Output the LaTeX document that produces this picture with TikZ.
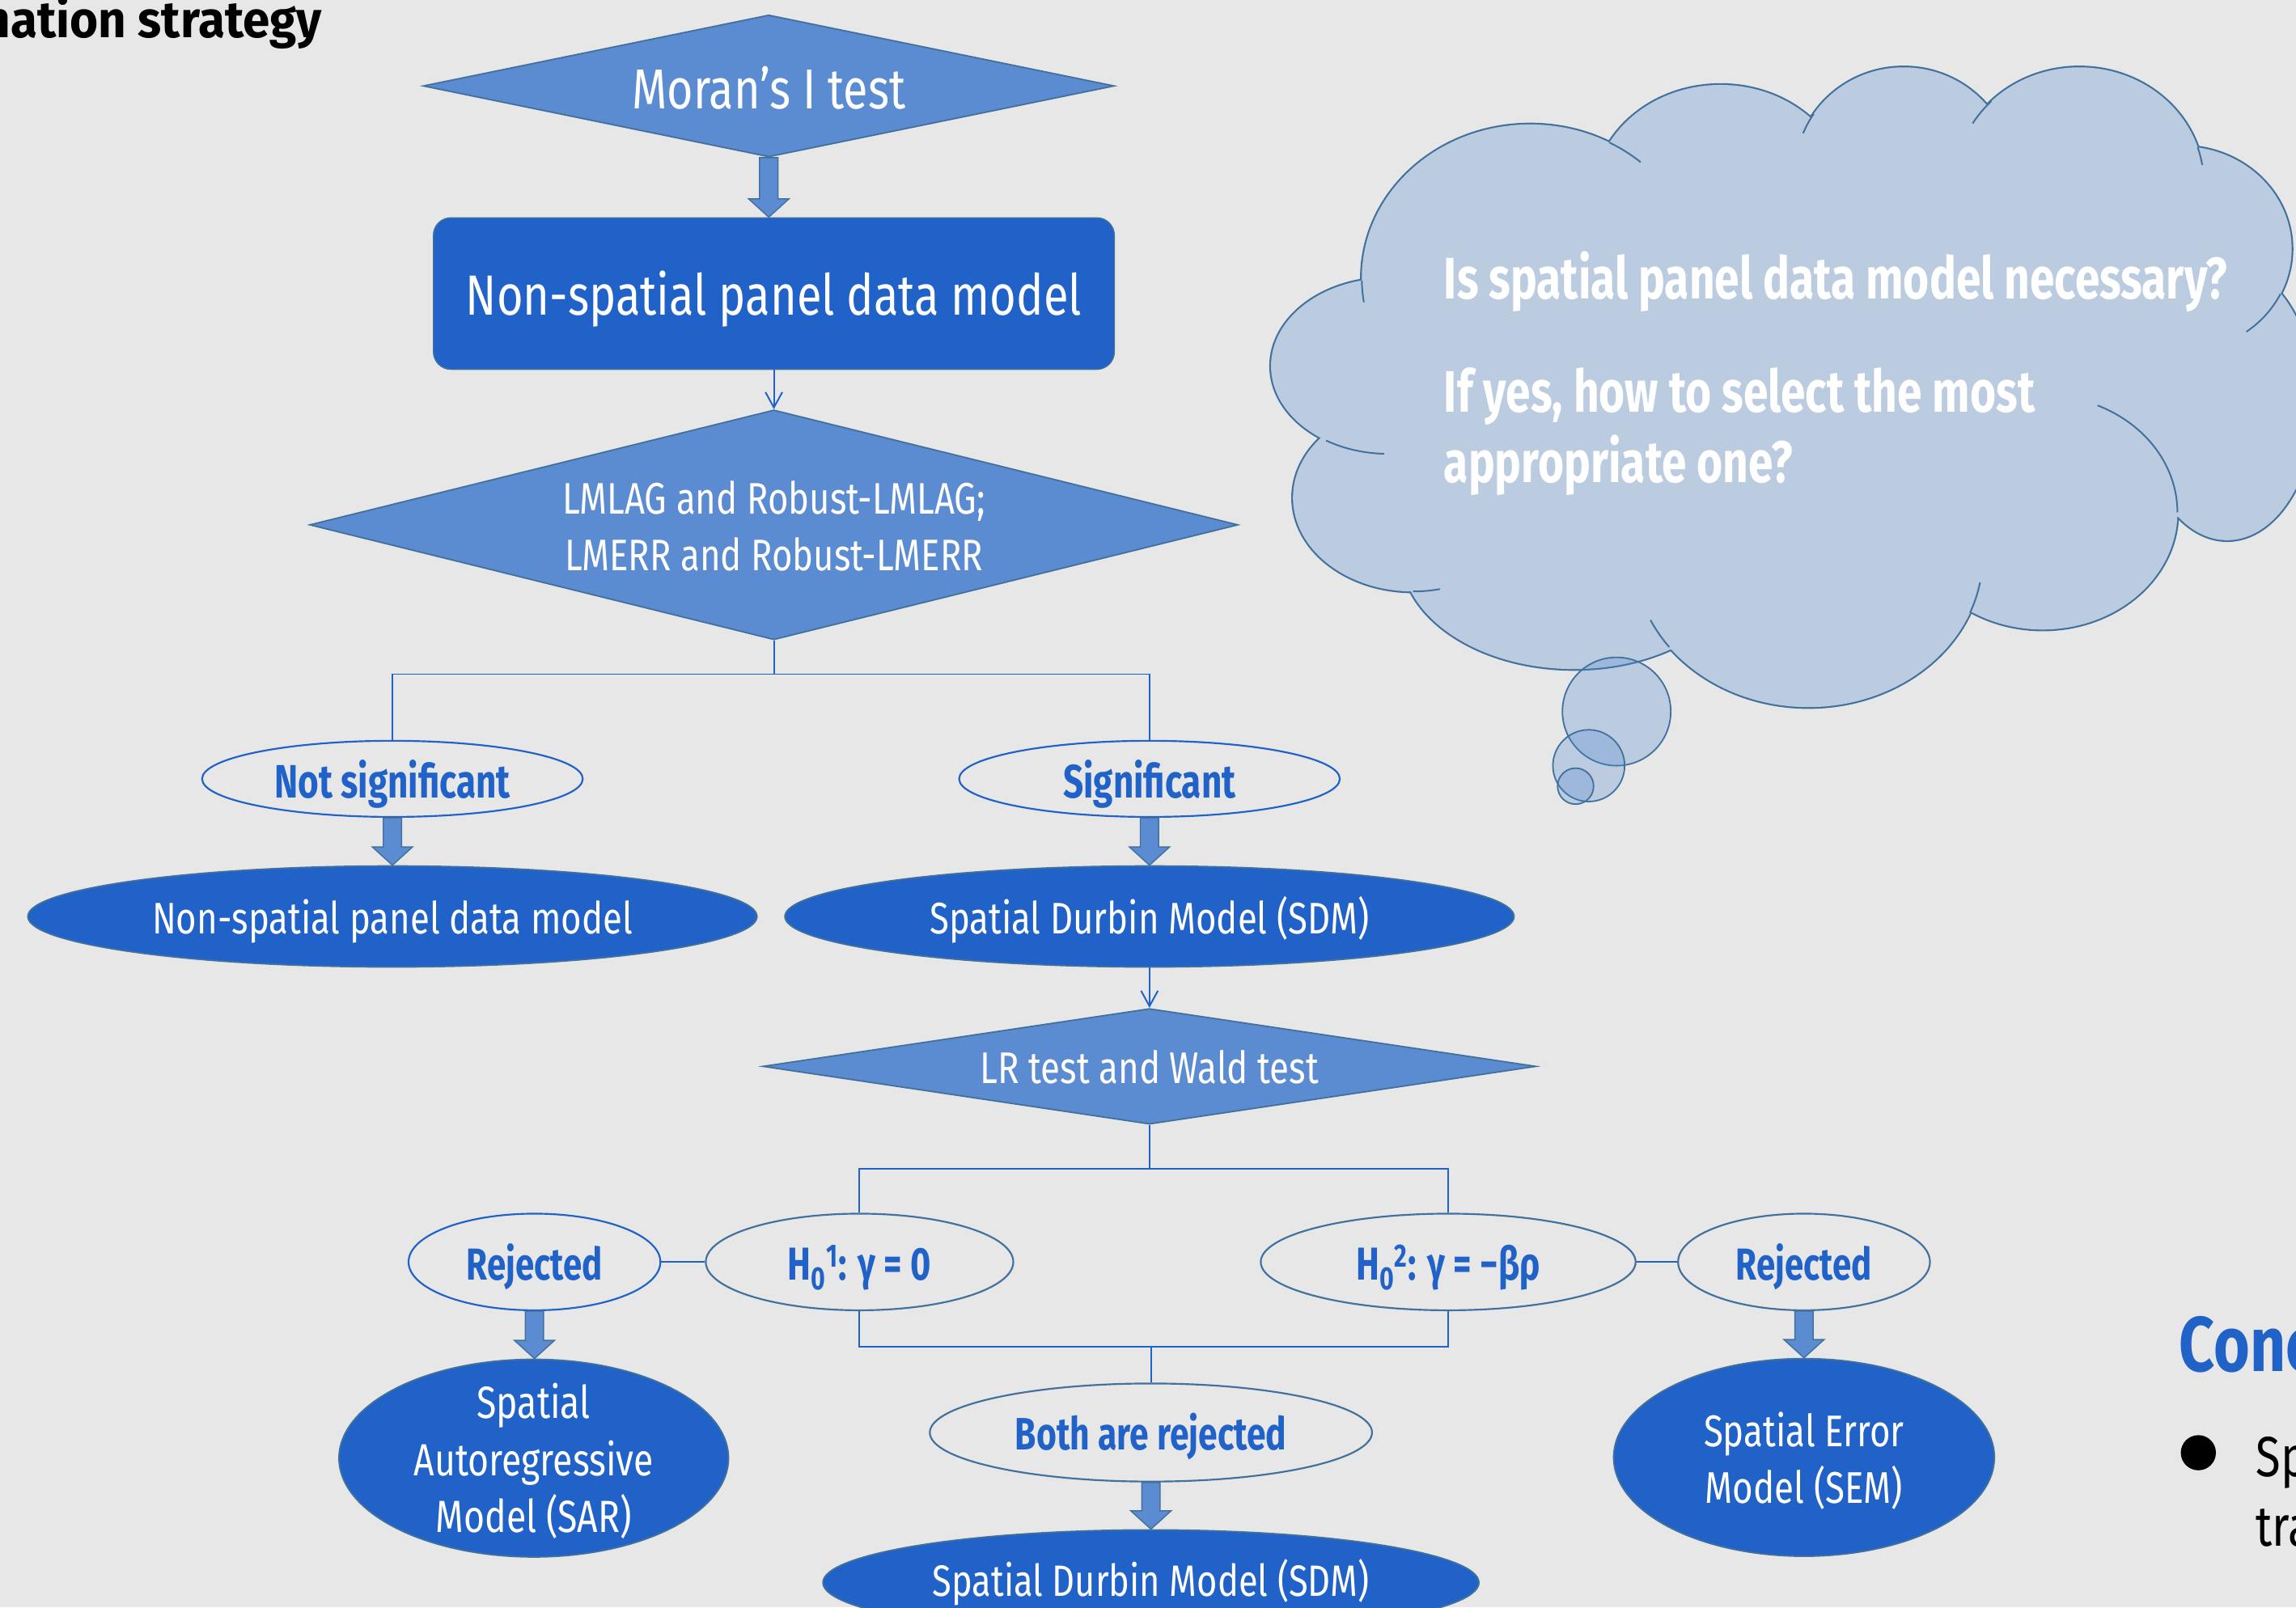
\documentclass[tikz,border=0pt]{standalone}
\usepackage{fontspec}
\setmainfont{Fira Sans}[UprightFeatures={FakeStretch=0.8}, BoldFeatures={FakeStretch=0.76}]
\newfontfamily\titlefont{Fira Sans}[FakeStretch=0.95]
\newfontfamily\concfont{Fira Sans}[FakeStretch=0.8]
\usetikzlibrary{shapes.geometric,arrows.meta,calc}
\definecolor{bgc}{RGB}{231,231,231}
\definecolor{dblue}{RGB}{32,98,200}
\definecolor{mblue}{RGB}{91,139,208}
\definecolor{bord}{RGB}{65,113,156}
\definecolor{cloudc}{RGB}{188,204,224}
\definecolor{bubc}{RGB}{78,135,206}
\newcommand\fsz[2]{\fontsize{#1pt}{#2pt}\selectfont}
\newcommand\blockarrow[2]{%
  \path[barrow] let \p1=(#1), \p2=(#2) in
   (\x1-6.25pt,\y1) -- (\x1+6.25pt,\y1) -- (\x1+6.25pt,\y2+12.5pt) -- (\x1+13.75pt,\y2+12.5pt)
   -- (\x1,\y2) -- (\x1-13.75pt,\y2+12.5pt) -- (\x1-6.25pt,\y2+12.5pt) -- cycle;}
\newcommand\crease[6]{\draw[bord, line width=1.1pt] ([shift={(#1,#2)}]#5:#3 and #4) arc[start angle=#5, end angle=#6, x radius=#3, y radius=#4];}
\def\cloudlobes{(948,250) ellipse[x radius=80,y radius=60]
 (965,340) ellipse[x radius=82,y radius=64]
 (1075,378) ellipse[x radius=118,y radius=79]
 (1235,380) ellipse[x radius=119,y radius=103]
 (1395,350) ellipse[x radius=92,y radius=80]
 (1521,275) ellipse[x radius=60,y radius=94]
 (1490,170) ellipse[x radius=75,y radius=70]
 (1420,125) ellipse[x radius=85,y radius=79]
 (1300,118) ellipse[x radius=74,y radius=72]
 (1175,135) ellipse[x radius=87,y radius=77]
 (1045,190) ellipse[x radius=115,y radius=105]}
\tikzset{
  dia/.style={diamond, draw=bord, fill=mblue, line width=1pt, inner sep=0pt, text=white},
  fillell/.style={ellipse, draw=bord, fill=dblue, line width=1pt, inner sep=0pt, text=white},
  openell/.style={ellipse, draw=#1, line width=1.2pt, inner sep=0pt, text=dblue},
  thinline/.style={draw=dblue, line width=1.1pt},
  thinarrow/.style={thinline, -{Straight Barb[length=10.5pt,width=11.5pt]}},
  barrow/.style={fill=mblue, draw=bord, line width=0.8pt},
  txt/.style={inner sep=0pt},
}
\begin{document}
\begin{tikzpicture}[x=1pt,y=-1pt]
\useasboundingbox (0,0) rectangle (1568,1098);
\fill[bgc] (0,0) rectangle (1568,1098);
\clip (0,0) rectangle (1568,1098);

% title fragment
\node[txt, anchor=base east, font=\titlefont\bfseries\fsz{35}{42}] (title) at (220,25.8) {nation strategy};

% cloud
\draw[bord, line width=2.4pt] \cloudlobes;
\fill[cloudc] \cloudlobes;
\fill[cloudc] (948,250) -- (965,340) -- (1075,378) -- (1235,380) -- (1395,350) -- (1521,275) -- (1490,170) -- (1420,125) -- (1300,118) -- (1175,135) -- (1045,190) -- cycle;
\crease{1045}{190}{115}{105}{179}{171}
\crease{948}{250}{80}{60}{122}{92}
\crease{965}{340}{82}{64}{90}{77}
\crease{1235}{380}{119}{103}{143}{155}
\crease{1235}{380}{119}{103}{22}{10}
\crease{1395}{350}{92}{80}{0}{-66}
\crease{1490}{170}{75}{70}{26}{54}
\crease{1420}{125}{85}{79}{-18}{-9}
\crease{1420}{125}{85}{79}{-135}{-149}
\crease{1300}{118}{74}{72}{-146}{-158}
\crease{1045}{190}{115}{105}{-62}{-49}
\filldraw[fill=bubc, fill opacity=0.28, draw=bord, line width=1pt] (1104,486) circle[radius=37];
\filldraw[fill=bubc, fill opacity=0.28, draw=bord, line width=1pt] (1085,523) circle[radius=24.5];
\filldraw[fill=bubc, fill opacity=0.28, draw=bord, line width=1pt] (1076,537) circle[radius=12.3];
\node[txt, anchor=base west, text=white, font=\bfseries\fsz{40}{48.3}] (q1) at (986,204.4) {Is spatial panel data model necessary?};
\node[txt, anchor=base west, text=white, font=\bfseries\fsz{40}{48.3}] (q2) at (986,281.4) {\begin{tabular}[t]{@{}l@{}}If yes, how to select the most\\appropriate one?\end{tabular}};

% flowchart nodes
\node[dia, minimum width=472, minimum height=97, aspect=4.86, font=\fsz{38.5}{45}, text height=31pt, text depth=0pt] (moran) at (525,58.7) {Moran’s I test};
\node[rectangle, rounded corners=12pt, draw=bord, fill=dblue, line width=0.8pt, minimum width=465, minimum height=103.5, inner sep=0pt, text=white, font=\fsz{38.7}{46}, text height=29.7pt, text depth=0pt] (box) at (528.5,200.5) {Non-spatial panel data model};
\node[dia, minimum width=634, minimum height=157, aspect=4.04] (lm) at (528.5,358.5) {};
\node[txt, anchor=base, text=white, font=\fsz{30.2}{39}] (lmt) at (528.5,351) {\begin{tabular}[t]{@{}c@{}}LMLAG and Robust-LMLAG;\\LMERR and Robust-LMERR\end{tabular}};

\node[openell=dblue, minimum width=260, minimum height=52, font=\bfseries\fsz{32}{38}, text height=26.3pt, text depth=0pt] (ns) at (268,532) {Not significant};
\node[openell=dblue, minimum width=260, minimum height=52, font=\bfseries\fsz{32}{38}, text height=26.3pt, text depth=0pt] (sig) at (785,532) {Significant};

\node[fillell, minimum width=498, minimum height=69, font=\fsz{30.2}{36}, text height=23.2pt, text depth=0pt] (nsm) at (268,626) {Non-spatial panel data model};
\node[fillell, minimum width=498, minimum height=69, font=\fsz{30.2}{36}, text height=23.2pt, text depth=0pt] (sdm) at (785,626) {Spatial Durbin Model (SDM)};

\node[dia, minimum width=528, minimum height=79, aspect=6.68, font=\fsz{30.3}{36}, text height=23.8pt, text depth=0pt] (lr) at (785,728.4) {LR test and Wald test};

\node[openell=bord, minimum width=210, minimum height=66, font=\bfseries\fsz{31.5}{38}, text height=24.7pt, text depth=0pt] (h1) at (587,862) {H\textsubscript{0}\textsuperscript{1}: γ = 0};
\node[openell=bord, minimum width=256, minimum height=66, font=\bfseries\fsz{31.5}{38}, text height=24.7pt, text depth=0pt] (h2) at (989,862) {H\textsubscript{0}\textsuperscript{2}: γ = −βρ};
\node[openell=dblue, minimum width=172, minimum height=66, font=\bfseries\fsz{30.6}{37}, text height=24.9pt, text depth=0pt] (rej1) at (365,862) {Rejected};
\node[openell=bord, minimum width=172, minimum height=66, font=\bfseries\fsz{30.6}{37}, text height=24.9pt, text depth=0pt] (rej2) at (1232,862) {Rejected};

\node[fillell, minimum width=266, minimum height=135] (sar) at (364.5,996) {};
\node[txt, anchor=base, text=white, font=\fsz{30.8}{38.8}] (sart) at (364.5,969) {\begin{tabular}[t]{@{}c@{}}Spatial\\Autoregressive\\Model (SAR)\end{tabular}};
\node[fillell, minimum width=260, minimum height=135] (sem) at (1232,995.5) {};
\node[txt, anchor=base, text=white, font=\fsz{30.3}{38.6}] (semt) at (1232,988) {\begin{tabular}[t]{@{}c@{}}Spatial Error\\Model (SEM)\end{tabular}};

\node[openell=bord, minimum width=302, minimum height=67, font=\bfseries\fsz{31}{38}, text height=24.1pt, text depth=0pt] (both) at (786,978.5) {Both are rejected};
\node[fillell, minimum width=448, minimum height=72, font=\fsz{30}{36}, text height=19pt, text depth=0pt] (sdm2) at (786,1081) {Spatial Durbin Model (SDM)};

% connectors
\blockarrow{moran.south}{box.north}
\draw[thinarrow] (box.south) -- (lm.north);
\coordinate (j1) at ($(lm.south)+(0,23)$);
\draw[thinline] (lm.south) -- (j1) -| (ns.north);
\draw[thinline] (j1) -| (sig.north);
\blockarrow{ns.south}{nsm.north}
\blockarrow{sig.south}{sdm.north}
\draw[thinarrow] (sdm.south) -- (lr.north);
\coordinate (j2) at ($(lr.south)+(0,30)$);
\draw[thinline] (lr.south) -- (j2) -| (h1.north);
\draw[thinline] (j2) -| (h2.north);
\draw[thinline] (rej1.east) -- (h1.west);
\draw[thinline] (h2.east) -- (rej2.west);
\blockarrow{rej1.south}{sar.north}
\blockarrow{rej2.south}{sem.north}
\coordinate (j3) at (786,920);
\draw[thinline] (h1.south) |- (j3) -| (h2.south);
\draw[thinline] (j3) -- (both.north);
\blockarrow{both.south}{sdm2.north}

% right margin fragments
\node[txt, anchor=base west, text=dblue, font=\concfont\bfseries\fsz{53}{60}] (conc) at (1488,937) {Conc};
\fill (1501.3,992.3) circle[radius=12];
\node[txt, anchor=base west, font=\fsz{38.7}{47.9}] (sp) at (1540.5,1008.3) {\begin{tabular}[t]{@{}l@{}}Sp\\tra\end{tabular}};
\end{tikzpicture}
\end{document}
